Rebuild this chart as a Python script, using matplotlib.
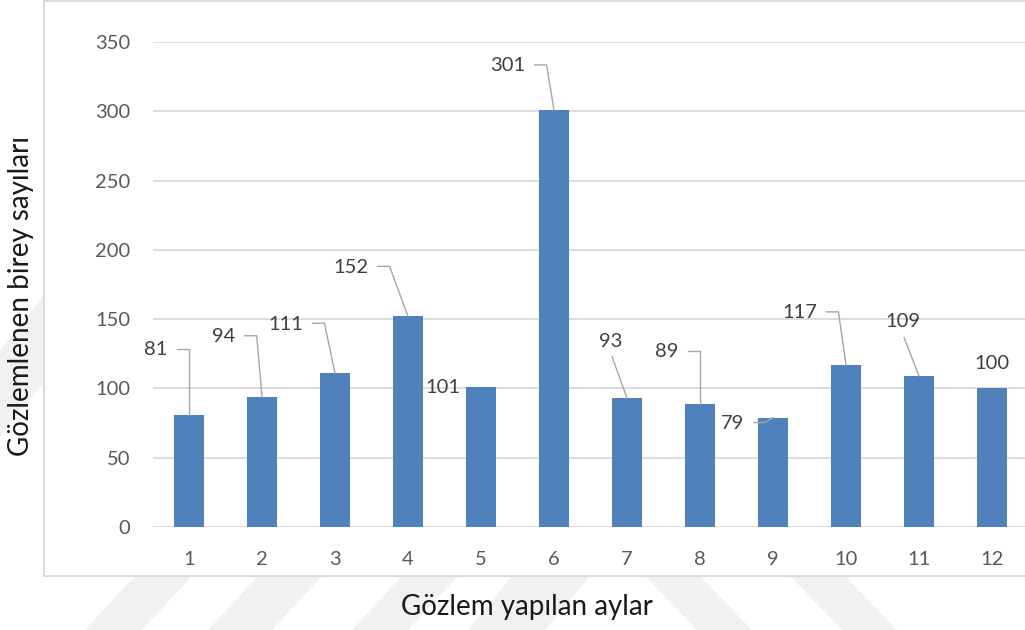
import matplotlib
matplotlib.use("Agg")
import matplotlib.pyplot as plt
from matplotlib.patches import Rectangle, Polygon
from matplotlib.lines import Line2D

plt.rcParams['font.family'] = ['Lato', 'DejaVu Sans']

# Data
months = [1, 2, 3, 4, 5, 6, 7, 8, 9, 10, 11, 12]
counts = [81, 94, 111, 152, 101, 301, 93, 89, 79, 117, 109, 100]
y_ticks = [0, 50, 100, 150, 200, 250, 300, 350]
x_title = "Gözlem yapılan aylar"
y_title = "Gözlemlenen birey sayıları"

# Label placement: text-centre offset from bar top (pixels) and leader style
label_offsets = [(-33, 65), (-38, 60), (-49, 49), (-57, 49), (-38, 0), (-46, 44),
                 (-16, 57), (-33, 52), (-40, -6), (-46, 52), (-16, 54), (0, 25)]
leader_kinds = ['side', 'side', 'side', 'side', None, 'side',
                'below', 'side', 'side9', 'side', 'below', None]

W, H, DPI = 1025, 630, 100
fig = plt.figure(figsize=(W / DPI, H / DPI), dpi=DPI)
fig.patch.set_facecolor('white')

def fx(px):
    return px / W

def fy(py):
    return 1 - py / H

# faint background bands of the page
band_col = '#F1F1F1'
bands = [
    [(0, 350), (44, 295), (44, 382), (0, 437)],
    [(135, 576), (192, 576), (142, 630), (85, 630)],
    [(258, 576), (322, 576), (272, 630), (208, 630)],
    [(402, 576), (458, 576), (408, 630), (352, 630)],
    [(512, 576), (590, 576), (545, 630), (468, 630)],
    [(645, 576), (700, 576), (752, 630), (697, 630)],
    [(790, 576), (845, 576), (897, 630), (842, 630)],
]
for pts in bands:
    fig.add_artist(Polygon([(fx(x), fy(y)) for x, y in pts], closed=True,
                           transform=fig.transFigure, facecolor=band_col,
                           edgecolor='none', zorder=0))

# chart frame
frame = Rectangle((fx(44), fy(576)), fx(1040) - fx(44), fy(0.5) - fy(576),
                  transform=fig.transFigure, facecolor='white',
                  edgecolor='#D9D9D9', linewidth=1.3, zorder=1)
fig.add_artist(frame)

ax = fig.add_axes([fx(152.5), fy(527), fx(876), 485 / H])
ax.set_zorder(2)
ax.patch.set_alpha(0)

bar_color = '#4F81BD'
bars = ax.bar(months, counts, width=0.4, color=bar_color, zorder=3)
ax.set_xlim(0.5, 12.5)
ax.set_ylim(0, 350)
ax.set_yticks(y_ticks)
ax.set_xticks(months)
ax.set_xticklabels([str(m) for m in months])
ax.yaxis.grid(True, color='#D9D9D9', linewidth=1.3, zorder=0)
ax.set_axisbelow(True)
for s in ax.spines.values():
    s.set_visible(False)
ax.tick_params(axis='both', length=0, colors='#595959', labelsize=14.5)
ax.tick_params(axis='y', pad=16)
ax.tick_params(axis='x', pad=17)

fig.text(fx(21), fy(296), y_title, rotation=90, ha='center', va='center',
         fontsize=20, color='#1A1A1A')
fig.text(fx(527), fy(607), x_title, ha='center', va='center',
         fontsize=20, color='#1A1A1A')

fig.canvas.draw()
renderer = fig.canvas.get_renderer()
leader_col = '#A6A6A6'
for m, v, (dx, dy), kind in zip(months, counts, label_offsets, leader_kinds):
    bx, by = ax.transData.transform((m, v))
    tx, ty = bx + dx, by + dy
    t = fig.text(tx / W, ty / H, str(v), ha='center', va='center',
                 fontsize=14.5, color='#404040', zorder=5)
    if kind is None:
        continue
    bb = t.get_window_extent(renderer)
    if kind == 'side':
        x0 = bb.x1 + 9
        pts = [(x0, ty + 1), (x0 + 12, ty + 1), (bx, by)]
        if abs(x0 + 12 - bx) < 3:
            pts = [(x0, ty + 1), (bx, ty + 1), (bx, by)]
    elif kind == 'side9':
        x0 = bb.x1 + 9
        pts = [(x0, ty + 1), (x0 + 11, ty + 1), (bx, by)]
    else:
        pts = [(tx + 1, bb.y0 - 7), (bx, by)]
    xs = [p[0] / W for p in pts]
    ys = [p[1] / H for p in pts]
    fig.add_artist(Line2D(xs, ys, transform=fig.transFigure, color=leader_col,
                          linewidth=1.0, zorder=4))

fig.savefig('out.png', dpi=DPI)
